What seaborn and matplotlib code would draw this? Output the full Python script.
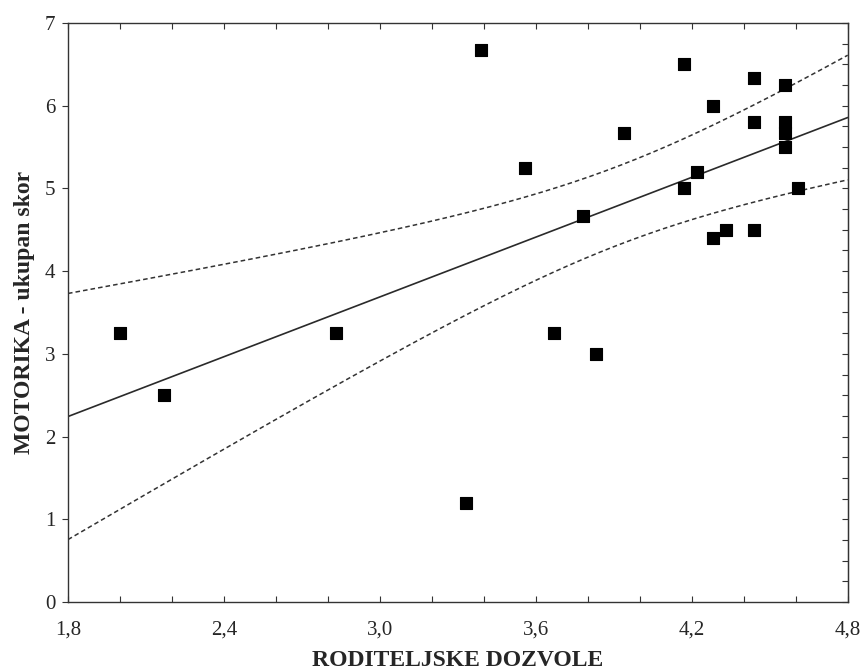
import numpy as np
import pandas as pd
import matplotlib
matplotlib.use("Agg")
import matplotlib.pyplot as plt
import seaborn as sns
from matplotlib.ticker import MultipleLocator, FuncFormatter, NullFormatter

# values
dozvole = [2.00, 2.17, 2.83, 3.33, 3.39, 3.56, 3.67, 3.78, 3.83, 3.94,
           4.17, 4.17, 4.22, 4.28, 4.28, 4.33, 4.44, 4.44, 4.44,
           4.56, 4.56, 4.56, 4.56, 4.61]
motorika = [3.25, 2.50, 3.25, 1.20, 6.67, 5.25, 3.25, 4.66, 3.00, 5.67,
            6.50, 5.00, 5.20, 6.00, 4.40, 4.50, 6.33, 5.80, 4.50,
            6.25, 5.80, 5.67, 5.50, 5.00]

x_label = "RODITELJSKE DOZVOLE"
y_label = "MOTORIKA - ukupan skor"

df = pd.DataFrame({"x": dozvole, "y": motorika})

sns.set_style("white")
plt.rcParams['font.family'] = ['Liberation Serif', 'DejaVu Serif']

fig = plt.figure(figsize=(8.65, 6.72), dpi=100)
ax = fig.add_axes([0.0786, 0.104, 0.9014, 0.862])
ax.set_xlim(1.8, 4.8)
ax.set_ylim(0, 7)

# regression line + points
sns.regplot(data=df, x="x", y="y", ci=None, ax=ax,
            marker="s", truncate=False,
            scatter_kws={"color": "black", "s": 72, "alpha": 1,
                         "edgecolor": "black", "linewidths": 0.8, "zorder": 3},
            line_kws={"color": "#2a2a2a", "lw": 1.2})

# 95% confidence band for the mean (dashed)
x = np.asarray(dozvole)
y = np.asarray(motorika)
n = len(x)
b1, b0 = np.polyfit(x, y, 1)
resid = y - (b0 + b1 * x)
s = np.sqrt(np.sum(resid ** 2) / (n - 2))
t = 2.074  # t(0.975, 22)
xs = np.linspace(1.8, 4.8, 200)
se = s * np.sqrt(1 / n + (xs - x.mean()) ** 2 / np.sum((x - x.mean()) ** 2))
fit = b0 + b1 * xs
ax.plot(xs, fit + t * se, ls=(0, (3, 2)), color="#333333", lw=1.1)
ax.plot(xs, fit - t * se, ls=(0, (3, 2)), color="#333333", lw=1.1)

ax.set_xlim(1.8, 4.8)
ax.set_ylim(0, 7)
ax.xaxis.set_major_locator(MultipleLocator(0.6))
ax.xaxis.set_minor_locator(MultipleLocator(0.2))
ax.yaxis.set_major_locator(MultipleLocator(1))
ax.xaxis.set_major_formatter(FuncFormatter(lambda v, p: f"{v:.1f}".replace(".", ",")))

ax.tick_params(axis="x", which="both", direction="in", top=True, bottom=True,
               length=4, width=0.8, color="#333333", labelsize=15, pad=13)
ax.tick_params(axis="y", which="major", direction="out", left=True, right=False,
               length=4, width=0.8, color="#333333", labelsize=15, pad=5)

# inward ticks every 0.25 on the right edge
sec = ax.secondary_yaxis("right")
sec.yaxis.set_major_locator(MultipleLocator(0.25))
sec.yaxis.set_major_formatter(NullFormatter())
sec.tick_params(direction="in", length=4, width=0.8, color="#333333")
sec.spines["right"].set_color("#333333")

for sp in ax.spines.values():
    sp.set_color("#333333")
    sp.set_linewidth(1.0)

ax.set_xlabel(x_label, fontsize=17, fontweight="bold", labelpad=8)
ax.set_ylabel(y_label, fontsize=17, fontweight="bold", labelpad=7)

fig.savefig("out.png", dpi=100)
